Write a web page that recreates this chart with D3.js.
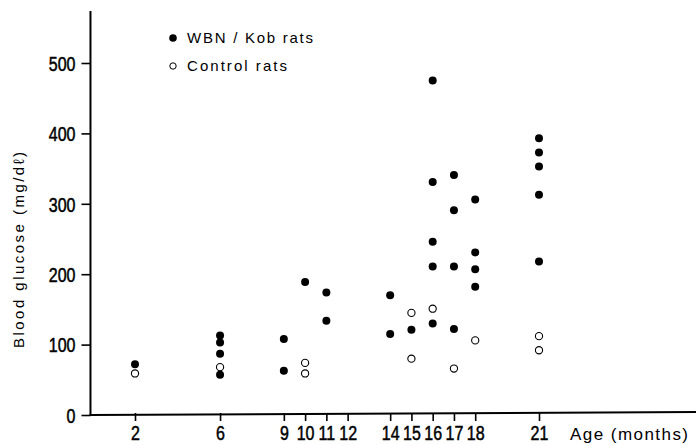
<!DOCTYPE html>
<html>
<head>
<meta charset="utf-8">
<script src="https://cdn.jsdelivr.net/npm/d3@7"></script>
<style>
  body { margin: 0; background: #fff; }
  svg { display: block; }
  .num { font-family: "Liberation Sans", Arial, sans-serif; font-size: 20px; stroke: #000; stroke-width: 0.5px; }
  .lbl { font-family: "Liberation Sans", Arial, sans-serif; }
</style>
</head>
<body>
<div id="chart"></div>
<script>
// month of age for each measurement, glucose in mg/dl
const wbnAge = [2, 6, 6, 6, 6, 9, 9, 10, 11, 11, 14, 14, 15,
  16, 16, 16, 16, 16, 17, 17, 17, 17, 18, 18, 18, 18, 21, 21, 21, 21, 21];
const wbnGlucose = [72, 113, 103, 87, 57, 108, 63, 189, 174, 134, 170, 115, 121,
  475, 331, 246, 211, 130, 341, 291, 211, 122, 306, 231, 207, 182, 393, 373, 353, 313, 218];

const ctrlAge = [2, 6, 10, 10, 15, 15, 16, 17, 18, 21, 21];
const ctrlGlucose = [59, 68, 74, 59, 145, 80, 151, 66, 106, 112, 92];

const xTicks = [2, 6, 9, 10, 11, 12, 14, 15, 16, 17, 18, 21];
const yTicks = [0, 100, 200, 300, 400, 500];

const w = 696, h = 445;
const squeeze = 0.8; // condensed look of the printed numerals

const x = d3.scaleLinear().domain([2, 21]).range([135, 539]);
const y = d3.scaleLinear().domain([0, 500]).range([415, 63]);
const axisX = x(0) - 2;

const svg = d3.select("#chart").append("svg")
  .attr("width", w)
  .attr("height", h);

// y axis
const yAxis = d3.axisLeft(y)
  .tickValues(yTicks)
  .tickSize(9)
  .tickSizeOuter(0);

const yG = svg.append("g")
  .attr("transform", `translate(${axisX},0)`)
  .call(yAxis);
yG.select(".domain").remove();
yG.selectAll(".tick line").attr("stroke", "#000").attr("stroke-width", 1.6);
yG.selectAll(".tick text")
  .attr("class", "num")
  .attr("fill", "#000")
  .attr("x", -15 / squeeze)
  .attr("dy", "0.36em")
  .attr("transform", `scale(${squeeze},1)`);

svg.append("line")
  .attr("x1", axisX).attr("x2", axisX)
  .attr("y1", y(574)).attr("y2", y(0) + 1)
  .attr("stroke", "#000").attr("stroke-width", 2);

// x axis
const xAxis = d3.axisBottom(x)
  .tickValues(xTicks)
  .tickSize(8)
  .tickPadding(5)
  .tickSizeOuter(0);

const xG = svg.append("g")
  .attr("transform", `translate(0,${y(0) - 2})`)
  .call(xAxis);
xG.select(".domain").remove();
xG.selectAll(".tick line").attr("stroke", "#000").attr("stroke-width", 1.6);
xG.selectAll(".tick text")
  .attr("class", "num")
  .attr("fill", "#000")
  .attr("transform", `scale(${squeeze},1)`);

svg.append("line")
  .attr("x1", axisX - 1).attr("x2", w)
  .attr("y1", y(0)).attr("y2", y(0) - 3)
  .attr("stroke", "#000").attr("stroke-width", 2);

// axis titles
svg.append("text")
  .attr("class", "lbl")
  .attr("transform", `translate(24,250) rotate(-90)`)
  .attr("text-anchor", "middle")
  .attr("font-size", 15)
  .attr("textLength", 196)
  .attr("lengthAdjust", "spacing")
  .text("Blood glucose (mg/dℓ)");

svg.append("text")
  .attr("class", "lbl")
  .attr("x", 570).attr("y", 440)
  .attr("font-size", 17)
  .attr("textLength", 118)
  .attr("lengthAdjust", "spacing")
  .text("Age (months)");

// points
svg.append("g").selectAll("circle")
  .data(ctrlAge.map((a, i) => [a, ctrlGlucose[i]]))
  .join("circle")
  .attr("cx", d => x(d[0]))
  .attr("cy", d => y(d[1]))
  .attr("r", 3.6)
  .attr("fill", "#fff")
  .attr("stroke", "#000")
  .attr("stroke-width", 1.1);

svg.append("g").selectAll("circle")
  .data(wbnAge.map((a, i) => [a, wbnGlucose[i]]))
  .join("circle")
  .attr("cx", d => x(d[0]))
  .attr("cy", d => y(d[1]))
  .attr("r", 4)
  .attr("fill", "#000");

// legend
const legend = svg.append("g").attr("class", "lbl");
legend.append("circle").attr("cx", 173).attr("cy", 38).attr("r", 3.8).attr("fill", "#000");
legend.append("text").attr("x", 187).attr("y", 43).attr("font-size", 15)
  .attr("textLength", 126).attr("lengthAdjust", "spacing")
  .text("WBN / Kob rats");
legend.append("circle").attr("cx", 173).attr("cy", 66).attr("r", 3.2)
  .attr("fill", "#fff").attr("stroke", "#000").attr("stroke-width", 1);
legend.append("text").attr("x", 187).attr("y", 71).attr("font-size", 15)
  .attr("textLength", 100).attr("lengthAdjust", "spacing")
  .text("Control rats");
</script>
</body>
</html>
